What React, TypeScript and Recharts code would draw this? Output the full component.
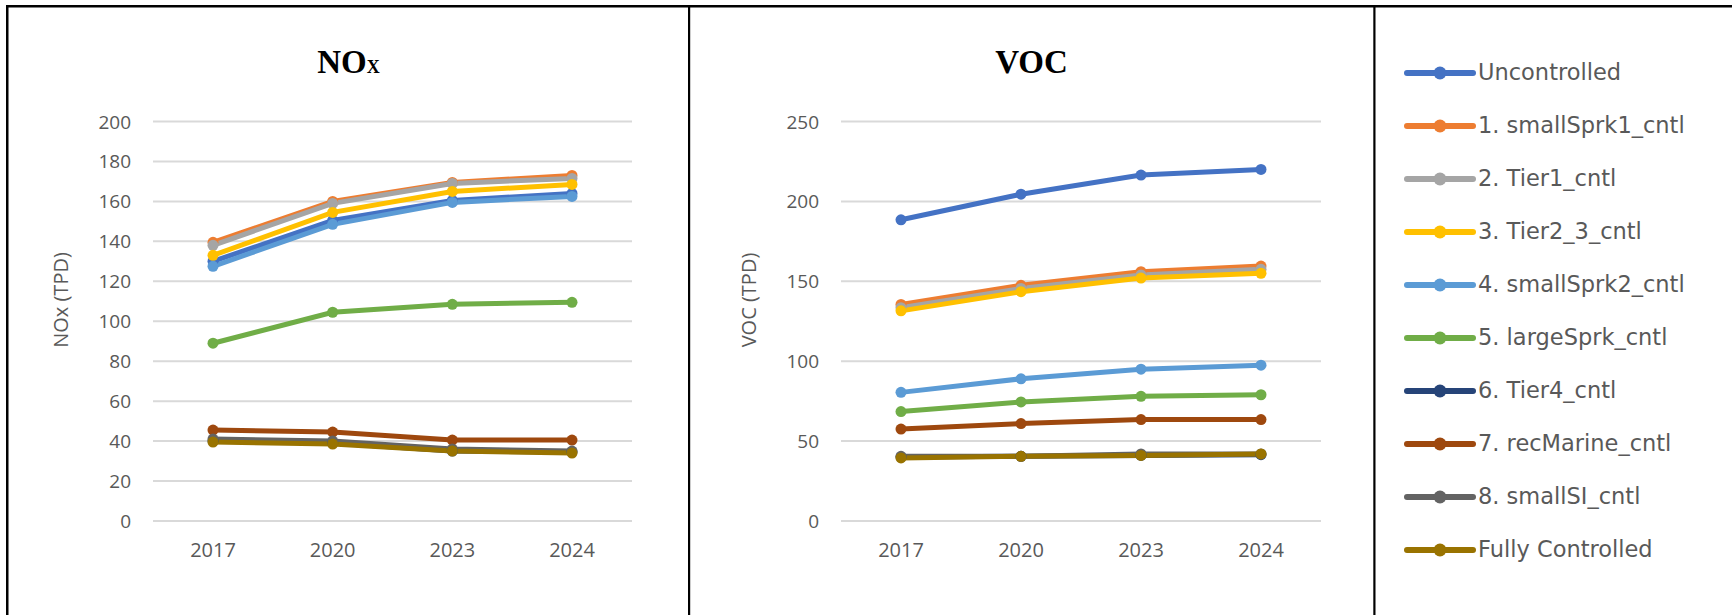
import React from 'react';
import { LineChart, Line, XAxis, YAxis, CartesianGrid } from 'recharts';

// ---------- data ----------
const years = ['2017', '2020', '2023', '2024'];

const seriesNames = [
  'Uncontrolled',
  '1. smallSprk1_cntl',
  '2. Tier1_cntl',
  '3. Tier2_3_cntl',
  '4. smallSprk2_cntl',
  '5. largeSprk_cntl',
  '6. Tier4_cntl',
  '7. recMarine_cntl',
  '8. smallSI_cntl',
  'Fully Controlled',
];

const seriesColors = [
  '#4472C4', '#ED7D31', '#A5A5A5', '#FFC000', '#5B9BD5',
  '#70AD47', '#264478', '#9E480E', '#636363', '#997300',
];

// NOx (TPD)
const noxUncontrolled = [130, 150.5, 160.5, 164];
const noxSmallSprk1 = [139.5, 160, 169.5, 173];
const noxTier1 = [138, 159, 169, 171.5];
const noxTier23 = [133, 154.5, 165, 168.5];
const noxSmallSprk2 = [127.5, 148.5, 159.5, 162.5];
const noxLargeSprk = [89, 104.5, 108.5, 109.5];
const noxTier4 = [40, 39, 35, 34.5];
const noxRecMarine = [45.5, 44.5, 40.5, 40.5];
const noxSmallSI = [41, 40, 36, 35];
const noxFully = [39.5, 38.5, 35, 34];

// VOC (TPD)
const vocUncontrolled = [188.5, 204.5, 216.5, 220];
const vocSmallSprk1 = [135.5, 147.5, 156, 159.5];
const vocTier1 = [133.5, 145.5, 154, 157.5];
const vocTier23 = [131.5, 143.5, 152, 155];
const vocSmallSprk2 = [80.5, 89, 95, 97.5];
const vocLargeSprk = [68.5, 74.5, 78, 79];
const vocTier4 = [40, 40.5, 41, 41.5];
const vocRecMarine = [57.5, 61, 63.5, 63.5];
const vocSmallSI = [40.5, 40.5, 42, 42];
const vocFully = [39.5, 40.5, 41, 42];

const noxTicks = [0, 20, 40, 60, 80, 100, 120, 140, 160, 180, 200];
const vocTicks = [0, 50, 100, 150, 200, 250];

const noxSeries = [
  noxUncontrolled, noxSmallSprk1, noxTier1, noxTier23, noxSmallSprk2,
  noxLargeSprk, noxTier4, noxRecMarine, noxSmallSI, noxFully,
];
const vocSeries = [
  vocUncontrolled, vocSmallSprk1, vocTier1, vocTier23, vocSmallSprk2,
  vocLargeSprk, vocTier4, vocRecMarine, vocSmallSI, vocFully,
];

function buildRows(series: number[][]) {
  return years.map((y, i) => {
    const row: Record<string, any> = { year: y };
    series.forEach((s, k) => {
      row['s' + k] = s[i];
    });
    return row;
  });
}

const noxRows = buildRows(noxSeries);
const vocRows = buildRows(vocSeries);

// ---------- layout ----------
const H = 615;
const PLOT_TOP = 121.5;
const PLOT_BOTTOM = 521;
const AXIS_FONT = '"Open Sans", "Liberation Sans", sans-serif';
const AXIS_COLOR = '#595959';

type PanelProps = {
  rows: Record<string, any>[];
  ticks: number[];
  left: number;
  width: number;
  yAxisWidth: number;
  rightMargin: number;
};

function Panel({ rows, ticks, left, width, yAxisWidth, rightMargin }: PanelProps) {
  const XTick = (props: any) => (
    <text
      x={props.x}
      y={PLOT_BOTTOM + 28}
      textAnchor="middle"
      dominantBaseline="central"
      fontFamily={AXIS_FONT}
      fontSize={20}
      fill={AXIS_COLOR}
    >
      {props.payload.value}
    </text>
  );
  const YTick = (props: any) => (
    <text
      x={yAxisWidth - 22}
      y={props.y}
      textAnchor="end"
      dominantBaseline="central"
      fontFamily={AXIS_FONT}
      fontSize={19}
      fill={AXIS_COLOR}
    >
      {props.payload.value}
    </text>
  );
  return (
    <div style={{ position: 'absolute', left, top: 0, width, height: H }}>
      <LineChart
        width={width}
        height={H}
        data={rows}
        margin={{ top: PLOT_TOP, right: rightMargin, bottom: 0, left: 0 }}
      >
        <CartesianGrid vertical={false} stroke="#d9d9d9" strokeWidth={2} />
        <XAxis
          dataKey="year"
          axisLine={false}
          tickLine={false}
          tickSize={0}
          tickMargin={0}
          height={H - PLOT_BOTTOM}
          padding={{ left: 60, right: 60 }}
          tick={XTick}
          interval={0}
        />
        <YAxis
          domain={[0, ticks[ticks.length - 1]]}
          ticks={ticks}
          axisLine={false}
          tickLine={false}
          tickSize={0}
          tickMargin={0}
          width={yAxisWidth}
          tick={YTick}
          interval={0}
        />
        {seriesNames.map((name, k) => (
          <Line
            key={name}
            name={name}
            dataKey={'s' + k}
            type="linear"
            stroke={seriesColors[k]}
            strokeWidth={5}
            dot={{ r: 5.5, fill: seriesColors[k], stroke: seriesColors[k], strokeWidth: 0 }}
            activeDot={false}
            isAnimationActive={false}
          />
        ))}
      </LineChart>
    </div>
  );
}

function Overlay() {
  const titleFont = '"Liberation Serif", "Times New Roman", serif';
  const legendTop = 73;
  const legendStep = 53;
  return (
    <svg
      width={1732}
      height={H}
      style={{ position: 'absolute', left: 0, top: 0, pointerEvents: 'none' }}
    >
      {/* frame */}
      <rect x={6} y={5} width={1726} height={2.5} fill="#000" />
      <rect x={6} y={5} width={2.5} height={H - 5} fill="#000" />
      <rect x={688} y={5} width={2.2} height={H - 5} fill="#000" />
      <rect x={1373.3} y={5} width={2.2} height={H - 5} fill="#000" />

      {/* titles */}
      <text x={348.5} y={73} textAnchor="middle" fontFamily={titleFont} fontWeight="bold" fontSize={33} fill="#000">
        NO<tspan fontSize={18}>X</tspan>
      </text>
      <text x={1031.5} y={73} textAnchor="middle" fontFamily={titleFont} fontWeight="bold" fontSize={33} fill="#000">
        VOC
      </text>

      {/* axis titles */}
      <text
        transform={`translate(60, 300) rotate(-90)`}
        textAnchor="middle"
        dominantBaseline="central"
        fontFamily={AXIS_FONT}
        fontSize={20}
        fill={AXIS_COLOR}
      >
        NOx (TPD)
      </text>
      <text
        transform={`translate(748, 300) rotate(-90)`}
        textAnchor="middle"
        dominantBaseline="central"
        fontFamily={AXIS_FONT}
        fontSize={20}
        fill={AXIS_COLOR}
      >
        VOC (TPD)
      </text>

      {/* legend */}
      {seriesNames.map((name, k) => {
        const cy = legendTop + k * legendStep;
        return (
          <g key={name}>
            <line x1={1407} y1={cy} x2={1473} y2={cy} stroke={seriesColors[k]} strokeWidth={6} strokeLinecap="round" />
            <circle cx={1440} cy={cy} r={6.5} fill={seriesColors[k]} />
            <text
              x={1478}
              y={cy - 1}
              dominantBaseline="central"
              fontFamily='"DejaVu Sans", sans-serif'
              fontSize={22.5}
              fill={AXIS_COLOR}
            >
              {name}
            </text>
          </g>
        );
      })}
    </svg>
  );
}

export default function App() {
  return (
    <div style={{ position: 'absolute', left: 0, top: 0, width: 1732, height: H, background: '#fff', overflow: 'hidden' }}>
      <Panel rows={noxRows} ticks={noxTicks} left={0} width={689} yAxisWidth={153} rightMargin={57} />
      <Panel rows={vocRows} ticks={vocTicks} left={689} width={685} yAxisWidth={152} rightMargin={53} />
      <Overlay />
    </div>
  );
}
